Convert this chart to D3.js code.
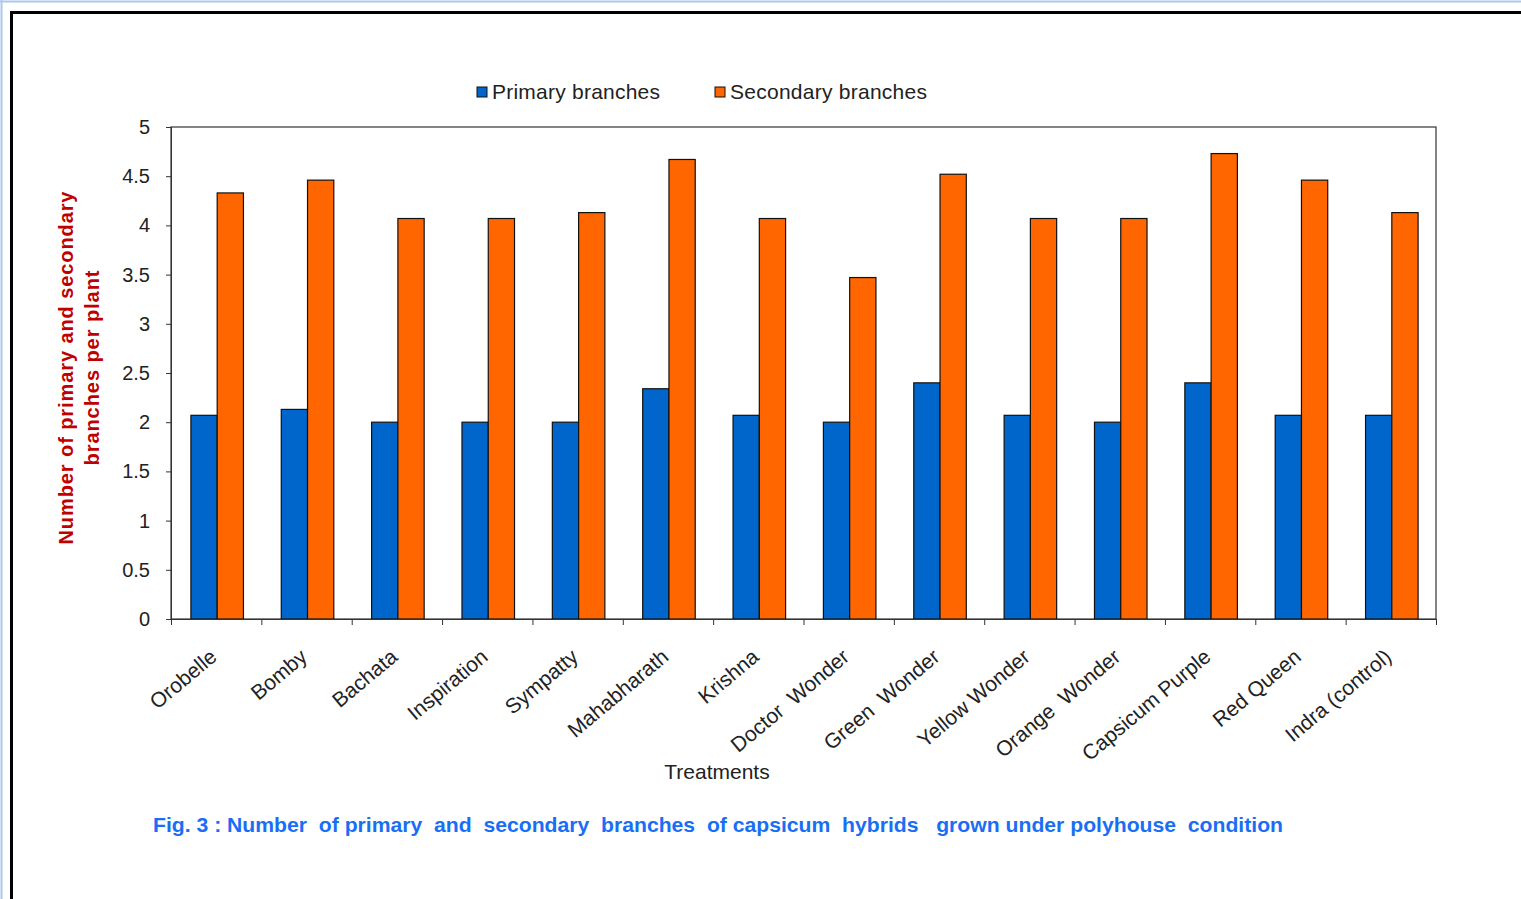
<!DOCTYPE html>
<html>
<head>
<meta charset="utf-8">
<script src="https://cdn.jsdelivr.net/npm/d3@7"></script>
<style>
  body { margin: 0; background: #fff; }
  svg { display: block; font-family: "Liberation Sans", Arial, sans-serif; }
</style>
</head>
<body>
<div id="chart"></div>
<script>
// data
var treatments = ["Orobelle", "Bomby", "Bachata", "Inspiration", "Sympatty", "Mahabharath",
    "Krishna", "Doctor  Wonder", "Green  Wonder", "Yellow Wonder", "Orange  Wonder",
    "Capsicum Purple", "Red Queen", "Indra (control)"];
var primary = [2.07, 2.13, 2.0, 2.0, 2.0, 2.34, 2.07, 2.0, 2.4, 2.07, 2.0, 2.4, 2.07, 2.07];
var secondary = [4.33, 4.46, 4.07, 4.07, 4.13, 4.67, 4.07, 3.47, 4.52, 4.07, 4.07, 4.73, 4.46, 4.13];
var seriesNames = ["Primary branches", "Secondary branches"];
var yTicks = [0, 0.5, 1, 1.5, 2, 2.5, 3, 3.5, 4, 4.5, 5];

var colors = ["#0066CC", "#FF6600"];

var svgWidth = 1521, svgHeight = 899;
var margin = { top: 127, left: 171, right: 85, bottom: 280 };
var width = svgWidth - margin.left - margin.right;   // 1265
var height = svgHeight - margin.top - margin.bottom; // 492

var svg = d3.select("#chart").append("svg")
    .attr("width", svgWidth)
    .attr("height", svgHeight);

// page frame lines
svg.append("line").attr("x1", 0).attr("x2", svgWidth).attr("y1", 1.5).attr("y2", 1.5)
    .attr("stroke", "#a9c8ee").attr("stroke-width", 2);
svg.append("line").attr("x1", 1.5).attr("x2", 1.5).attr("y1", 0).attr("y2", svgHeight)
    .attr("stroke", "#a9c8ee").attr("stroke-width", 2);
svg.append("path")
    .attr("d", "M11.5," + svgHeight + " V12.5 H" + svgWidth)
    .attr("fill", "none").attr("stroke", "#000").attr("stroke-width", 3);

var chartGroup = svg.append("g")
    .attr("transform", `translate(${margin.left}, ${margin.top})`);

// scales
var x0 = d3.scaleBand().domain(treatments).range([0, width]).padding(0);
var x1 = d3.scaleBand().domain(seriesNames).range([0, x0.bandwidth()])
    .paddingInner(0).paddingOuter(0.72);
var xb = d3.scaleLinear().domain([0, treatments.length]).range([0, width]);
var y = d3.scaleLinear().domain([0, 5]).range([height, 0]);

// plot border
chartGroup.append("rect")
    .attr("width", width).attr("height", height)
    .attr("fill", "none").attr("stroke", "#333").attr("stroke-width", 1.2);

// bars
var rows = treatments.map(function (t, i) {
    return { name: t, values: [primary[i], secondary[i]] };
});

var groups = chartGroup.selectAll(".grp")
    .data(rows)
    .enter()
    .append("g")
    .attr("class", "grp")
    .attr("transform", d => `translate(${x0(d.name) + 1},0)`);

groups.selectAll("rect")
    .data(d => d.values.map((v, j) => ({ key: seriesNames[j], v: v, j: j })))
    .enter()
    .append("rect")
    .attr("x", d => x1(d.key))
    .attr("width", x1.bandwidth())
    .attr("y", d => y(d.v))
    .attr("height", d => height - y(d.v))
    .attr("fill", d => colors[d.j])
    .attr("stroke", "#111")
    .attr("stroke-width", 1.2);

// axes
var yAxis = d3.axisLeft(y).tickValues(yTicks).tickSize(5).tickPadding(16)
    .tickFormat(d => d);
var yG = chartGroup.append("g").call(yAxis);
yG.select(".domain").attr("stroke", "#333");
yG.selectAll(".tick line").attr("stroke", "#333");
yG.selectAll("text").attr("font-size", "20px").attr("fill", "#222")
    .attr("font-family", "Liberation Sans, Arial, sans-serif");

var xAxis = d3.axisBottom(xb).tickValues(d3.range(treatments.length + 1))
    .tickSize(6).tickSizeOuter(0).tickFormat("");
var xG = chartGroup.append("g")
    .attr("transform", `translate(0, ${height})`)
    .call(xAxis);
xG.select(".domain").attr("stroke", "#333");
xG.selectAll(".tick line").attr("stroke", "#333");

// category labels
chartGroup.selectAll(".xlab")
    .data(treatments)
    .enter()
    .append("text")
    .attr("class", "xlab")
    .attr("transform", d => `translate(${x0(d) + x0.bandwidth() / 2 + 2}, ${height + 40}) rotate(-40)`)
    .attr("text-anchor", "end")
    .attr("font-size", "21px")
    .attr("fill", "#222")
    .attr("xml:space", "preserve")
    .style("white-space", "pre")
    .text(d => d);

// axis titles
chartGroup.append("text")
    .attr("x", 546)
    .attr("y", height + 160)
    .attr("text-anchor", "middle")
    .attr("font-size", "21px")
    .attr("fill", "#222")
    .text("Treatments");

var yTitle = svg.append("text")
    .attr("transform", "translate(73, 368) rotate(-90)")
    .attr("text-anchor", "middle")
    .attr("font-size", "20px")
    .attr("font-weight", "bold")
    .attr("fill", "#C00000");
yTitle.append("tspan").attr("x", 0).attr("dy", 0)
    .attr("textLength", 353).text("Number of primary and secondary");
yTitle.append("tspan").attr("x", 0).attr("dy", 26)
    .attr("textLength", 195).text("branches per plant");

// legend
var legend = svg.append("g").attr("transform", "translate(477, 87)");
var legX = [0, 238];
seriesNames.forEach(function (s, i) {
    legend.append("rect")
        .attr("x", legX[i]).attr("y", 0)
        .attr("width", 10).attr("height", 10)
        .attr("fill", colors[i]).attr("stroke", "#111").attr("stroke-width", 1);
    legend.append("text")
        .attr("x", legX[i] + 15).attr("y", 12)
        .attr("font-size", "21px").attr("fill", "#222")
        .attr("textLength", i === 0 ? 168 : 197)
        .text(s);
});

// caption
svg.append("text")
    .attr("x", 153)
    .attr("y", 832)
    .attr("font-family", "Liberation Sans Narrow, Liberation Sans, Arial, sans-serif")
    .attr("font-size", "21px")
    .attr("font-weight", "bold")
    .attr("fill", "#1a6ef5")
    .attr("textLength", 1130)
    .attr("lengthAdjust", "spacingAndGlyphs")
    .attr("xml:space", "preserve")
    .style("white-space", "pre")
    .text("Fig. 3 : Number  of primary  and  secondary  branches  of capsicum  hybrids   grown under polyhouse  condition");
</script>
</body>
</html>
